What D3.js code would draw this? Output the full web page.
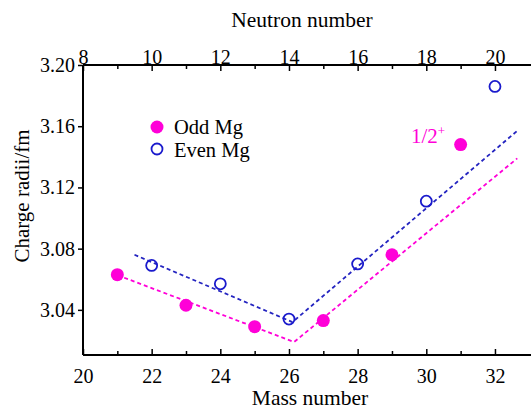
<!DOCTYPE html>
<html>
<head>
<meta charset="utf-8">
<script src="https://cdn.jsdelivr.net/npm/d3@7"></script>
<style>
  body { margin: 0; background: #fff; }
  text { font-family: "Liberation Serif", "Times New Roman", serif; }
</style>
</head>
<body>
<div id="chart"></div>
<script>
'use strict';

// mass numbers and radii (fm)
var oddMass   = [21, 23, 25, 27, 29, 31];
var oddRadii  = [3.063, 3.043, 3.029, 3.033, 3.076, 3.148];
var evenMass  = [22, 24, 26, 28, 30, 32];
var evenRadii = [3.069, 3.057, 3.034, 3.070, 3.111, 3.186];

// dashed trend lines
var evenFitMass  = [21.5, 26.1, 32.65];
var evenFitRadii = [3.076, 3.032, 3.157];
var oddFitMass   = [21.2, 26.15, 32.65];
var oddFitRadii  = [3.061, 3.019, 3.139];

var massTicks    = [20, 22, 24, 26, 28, 30, 32];
var neutronTicks = [8, 10, 12, 14, 16, 18, 20];
var radiusTicks  = [3.04, 3.08, 3.12, 3.16, 3.20];

var W = 531, H = 409;
var mLeft = 83, mTop = 65, mBottom = 355;

var magenta = '#ff00d8', blue = '#1a1acc', dashBlue = '#2424c0';

var svg = d3.select('#chart').append('svg')
  .attr('width', W).attr('height', H);

var x = d3.scaleLinear().domain([20, 33]).range([mLeft, mLeft + 13 * 34.33]);
var y = d3.scaleLinear().domain([3.0105, 3.20]).range([mBottom, mTop]);
// top axis: neutron number N = A - 12
var xn = d3.scaleLinear().domain([8, 21]).range(x.range());

function style(g) {
  g.select('.domain').remove();
  g.selectAll('line').attr('stroke', '#000').attr('stroke-width', 1.5);
  g.selectAll('text').attr('font-size', 20).attr('fill', '#000')
    .style('font-family', '"Liberation Serif", serif');
}

// bottom axis, ticks inward
var minor = d3.range(21, 33, 2);
svg.append('g').attr('transform', 'translate(0,' + mBottom + ')')
  .call(d3.axisBottom(x).tickValues(minor).tickSize(-4).tickFormat(''))
  .call(style);
svg.append('g').attr('transform', 'translate(0,' + mBottom + ')')
  .call(d3.axisBottom(x).tickValues(massTicks).tickSize(-6).tickPadding(14)
    .tickFormat(d3.format('d')))
  .call(style);

// top axis
svg.append('g').attr('transform', 'translate(0,' + mTop + ')')
  .call(d3.axisTop(xn).tickValues(d3.range(9, 21, 2)).tickSize(-4).tickFormat(''))
  .call(style);
svg.append('g').attr('transform', 'translate(0,' + mTop + ')')
  .call(d3.axisTop(xn).tickValues(neutronTicks).tickSize(-6).tickPadding(1)
    .tickFormat(d3.format('d')))
  .call(style);

// left axis, ticks outward
svg.append('g').attr('transform', 'translate(' + mLeft + ',0)')
  .call(d3.axisLeft(y).tickValues(radiusTicks).tickSize(5).tickPadding(3)
    .tickFormat(d3.format('.2f')))
  .call(style);

// frame lines
svg.append('line').attr('x1', mLeft).attr('x2', W).attr('y1', mTop).attr('y2', mTop)
  .attr('stroke', '#000').attr('stroke-width', 2);
svg.append('line').attr('x1', mLeft).attr('x2', W).attr('y1', mBottom).attr('y2', mBottom)
  .attr('stroke', '#000').attr('stroke-width', 2);
svg.append('line').attr('x1', mLeft).attr('x2', mLeft).attr('y1', mTop).attr('y2', mBottom)
  .attr('stroke', '#000').attr('stroke-width', 2);

// axis titles
svg.append('text').attr('x', 310).attr('y', 405).attr('text-anchor', 'middle')
  .attr('font-size', 21.5).text('Mass number');
svg.append('text').attr('x', 302).attr('y', 27).attr('text-anchor', 'middle')
  .attr('font-size', 21.5).text('Neutron number');
svg.append('text').attr('transform', 'translate(29,196) rotate(-90)')
  .attr('text-anchor', 'middle').attr('font-size', 21).text('Charge radii/fm');

// dashed fits
var line = d3.line().x(function(d) { return x(d[0]); }).y(function(d) { return y(d[1]); });
svg.append('path').datum(d3.zip(evenFitMass, evenFitRadii)).attr('d', line)
  .attr('fill', 'none').attr('stroke', dashBlue).attr('stroke-width', 1.8)
  .attr('stroke-dasharray', '4,3');
svg.append('path').datum(d3.zip(oddFitMass, oddFitRadii)).attr('d', line)
  .attr('fill', 'none').attr('stroke', magenta).attr('stroke-width', 1.8)
  .attr('stroke-dasharray', '4,3');

// points
svg.selectAll('.odd').data(d3.zip(oddMass, oddRadii)).enter().append('circle')
  .attr('cx', function(d) { return x(d[0]); })
  .attr('cy', function(d) { return y(d[1]); })
  .attr('r', 6.5).attr('fill', magenta);
svg.selectAll('.even').data(d3.zip(evenMass, evenRadii)).enter().append('circle')
  .attr('cx', function(d) { return x(d[0]); })
  .attr('cy', function(d) { return y(d[1]); })
  .attr('r', 5.5).attr('fill', 'none').attr('stroke', blue).attr('stroke-width', 1.8);

// legend
svg.append('circle').attr('cx', 157).attr('cy', 127).attr('r', 6.5).attr('fill', magenta);
svg.append('text').attr('x', 174).attr('y', 134).attr('font-size', 20.5).text('Odd Mg');
svg.append('circle').attr('cx', 157).attr('cy', 149).attr('r', 5.5)
  .attr('fill', 'none').attr('stroke', blue).attr('stroke-width', 1.8);
svg.append('text').attr('x', 174).attr('y', 157).attr('font-size', 20.5).text('Even Mg');

// spin label
var lab = svg.append('text').attr('x', 411).attr('y', 143).attr('font-size', 21)
  .attr('fill', magenta).text('1/2');
lab.append('tspan').attr('dy', -8).attr('font-size', 13).text('+');
</script>
</body>
</html>
